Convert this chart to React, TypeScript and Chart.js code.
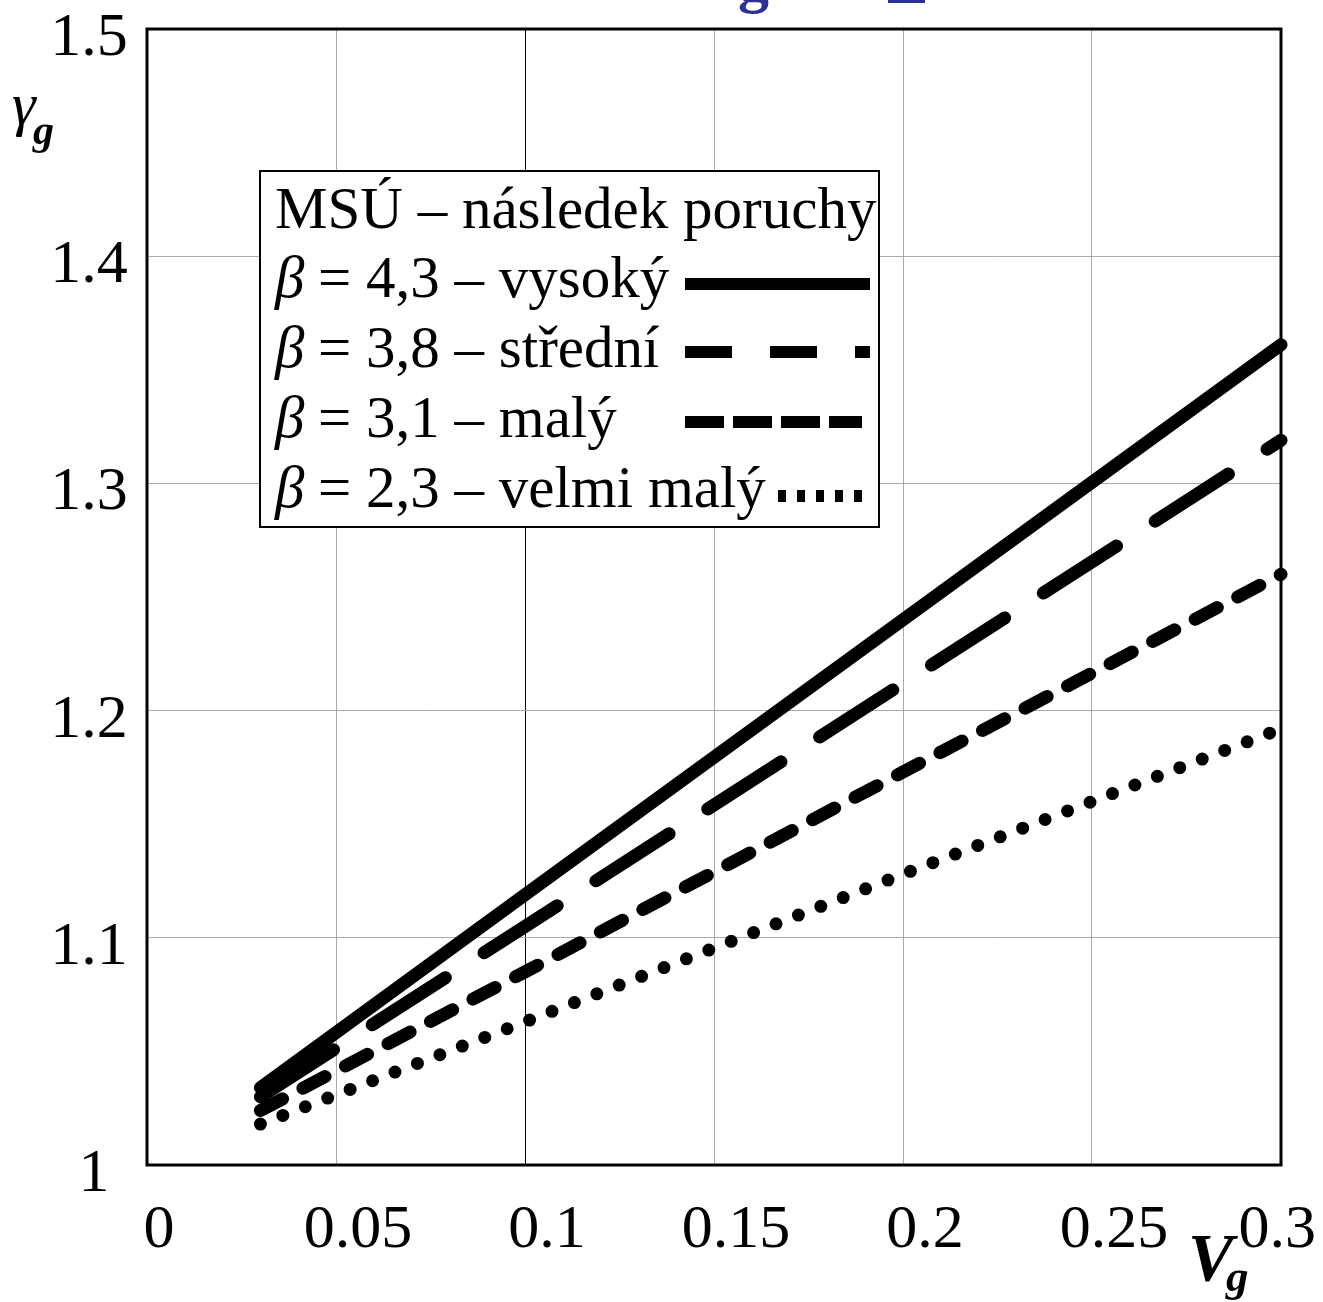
import React, { useEffect, useRef } from 'react';
import { Chart, registerables } from 'chart.js';

Chart.register(...registerables);

// ---- data ----
const VG = [0.03, 0.1, 0.2, 0.3];
const GAMMA_HIGH = [1.034, 1.119, 1.24, 1.361];
const GAMMA_MEDIUM = [1.03, 1.105, 1.212, 1.319];
const GAMMA_LOW = [1.024, 1.085, 1.173, 1.26];
const GAMMA_VERY_LOW = [1.018, 1.063, 1.128, 1.192];

const LEGEND_TITLE = 'MSÚ – následek poruchy';
const BETA_VALUES = ['4,3', '3,8', '3,1', '2,3'];
const CONSEQUENCES = ['vysoký', 'střední', 'malý', 'velmi malý'];

const X_TICKS = [0, 0.05, 0.1, 0.15, 0.2, 0.25, 0.3];
const Y_TICKS = [1, 1.1, 1.2, 1.3, 1.4, 1.5];

const SERIF = '"Liberation Serif", "Times New Roman", serif';

export default function App() {
  const ref = useRef<HTMLCanvasElement>(null);

  useEffect(() => {
    document.body.style.margin = '0';
    const canvas = ref.current!;

    const legendSamples = [
      { from: 685, to: 870, y: 284, dash: [] as number[] },
      { from: 685, to: 870, y: 352, dash: [47, 38] },
      { from: 685, to: 862, y: 422, dash: [39, 9] },
      { from: 778, to: 862, y: 496, dash: [8, 11] },
    ];
    const legendRows = [297, 367, 437, 507];

    const overlay = {
      id: 'overlay',
      beforeDatasetsDraw(chart: any) {
        const { ctx, chartArea: a } = chart;
        ctx.save();
        ctx.strokeStyle = '#000';
        ctx.lineWidth = 3;
        ctx.strokeRect(a.left, a.top, a.right - a.left, a.bottom - a.top);
        ctx.restore();
      },
      afterDatasetsDraw(chart: any) {
        const { ctx } = chart;
        const xs = chart.scales.x;
        const ys = chart.scales.y;
        ctx.save();
        ctx.fillStyle = '#000';
        ctx.textBaseline = 'alphabetic';

        // tick labels
        ctx.font = `62px ${SERIF}`;
        ctx.textAlign = 'center';
        Y_TICKS.forEach((v) => {
          const t = String(v);
          ctx.fillText(t, t.length === 1 ? 94 : 89, ys.getPixelForValue(v) + 26);
        });
        ctx.textAlign = 'left';
        X_TICKS.forEach((v) => {
          const t = String(v);
          const w = ctx.measureText(t).width;
          let cx = xs.getPixelForValue(v) + (v === 0 ? 12 : 22);
          if (cx + w / 2 > 1316) cx = 1316 - w / 2;
          ctx.fillText(t, cx - w / 2, 1247);
        });

        // axis titles
        ctx.font = `italic 60px ${SERIF}`;
        ctx.fillText('γ', 12, 124);
        ctx.font = `bold italic 42px ${SERIF}`;
        ctx.fillText('g', 33, 144);
        ctx.font = `bold italic 68px ${SERIF}`;
        ctx.fillText('V', 1188, 1280);
        ctx.font = `bold italic 45px ${SERIF}`;
        ctx.fillText('g', 1226, 1291);

        // cut-off blue title fragments at the top
        ctx.fillStyle = '#2e3192';
        ctx.font = `bold 62px ${SERIF}`;
        ctx.fillText('g', 738, 1);
        ctx.fillRect(888, 0, 37, 3);

        // legend box
        ctx.fillStyle = '#fff';
        ctx.fillRect(260, 171, 619, 356);
        ctx.strokeStyle = '#000';
        ctx.lineWidth = 2;
        ctx.strokeRect(260, 171, 619, 356);
        ctx.fillStyle = '#000';
        ctx.font = `59px ${SERIF}`;
        ctx.fillText(LEGEND_TITLE, 275, 228);
        legendRows.forEach((b, i) => {
          ctx.font = `italic 59px ${SERIF}`;
          ctx.fillText('β', 275, b);
          ctx.font = `59px ${SERIF}`;
          ctx.fillText(`= ${BETA_VALUES[i]} – ${CONSEQUENCES[i]}`, 318, b);
        });
        ctx.lineWidth = 12;
        ctx.lineCap = 'butt';
        legendSamples.forEach((s) => {
          ctx.beginPath();
          ctx.setLineDash(s.dash);
          ctx.moveTo(s.from, s.y);
          ctx.lineTo(s.to, s.y);
          ctx.stroke();
        });
        ctx.restore();
      },
    };

    const mk = (vals: number[]) => VG.map((x, i) => ({ x, y: vals[i] }));
    const base = {
      borderColor: '#000',
      backgroundColor: '#000',
      pointRadius: 0,
      borderWidth: 13,
      borderCapStyle: 'round' as const,
      borderJoinStyle: 'round' as const,
      tension: 0,
      fill: false,
      clip: 8,
    };

    const chart = new Chart(canvas, {
      type: 'line',
      data: {
        datasets: [
          { ...base, label: CONSEQUENCES[0], data: mk(GAMMA_HIGH) },
          { ...base, label: CONSEQUENCES[1], data: mk(GAMMA_MEDIUM), borderDash: [87, 46] },
          { ...base, label: CONSEQUENCES[2], data: mk(GAMMA_LOW), borderDash: [25, 23] },
          { ...base, label: CONSEQUENCES[3], data: mk(GAMMA_VERY_LOW), borderDash: [0, 24.05] },
        ],
      },
      options: {
        animation: false,
        responsive: false,
        layout: { padding: { left: 147, right: 42, top: 29, bottom: 137 } },
        plugins: { legend: { display: false }, tooltip: { enabled: false }, title: { display: false } },
        scales: {
          x: {
            type: 'linear',
            min: 0,
            max: 0.3,
            ticks: { stepSize: 0.05, display: false },
            grid: {
              drawTicks: false,
              lineWidth: 1,
              color: (c: any) => (c.tick && Math.abs(c.tick.value - 0.1) < 1e-9 ? '#000' : '#aaaaaa'),
            },
            border: { display: false },
          },
          y: {
            type: 'linear',
            min: 1,
            max: 1.5,
            ticks: { stepSize: 0.1, display: false },
            grid: { drawTicks: false, lineWidth: 1, color: '#aaaaaa' },
            border: { display: false },
          },
        },
      },
      plugins: [overlay],
    });

    return () => chart.destroy();
  }, []);

  return (
    <canvas
      ref={ref}
      width={1323}
      height={1302}
      style={{ display: 'block', width: 1323, height: 1302 }}
    />
  );
}
